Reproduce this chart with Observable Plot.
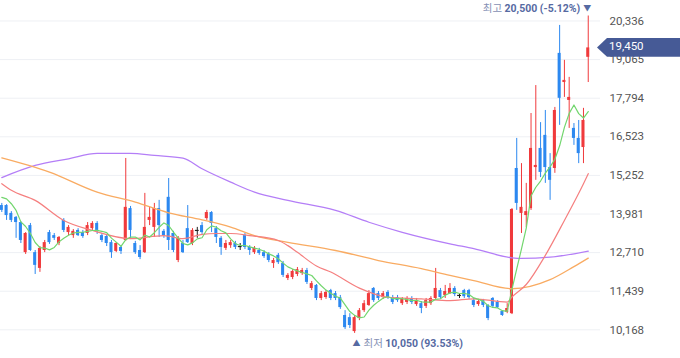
<!DOCTYPE html>
<html><head><meta charset="utf-8">
<script src="https://cdn.jsdelivr.net/npm/d3@7"></script>
<script src="https://cdn.jsdelivr.net/npm/@observablehq/plot@0.6"></script>
<style>
html,body{margin:0;padding:0;background:#fff;}
#chart{width:680px;height:358px;overflow:hidden;}
</style></head><body><div id="chart"></div>
<script>
// Daily OHLC (KRW), oldest to newest
const opens = [14260,14260,14000,13870,13700,12710,13600,12710,12190,12780,13370,13270,13010,13770,13370,13270,13440,13370,13340,13500,
13670,13270,13240,13040,12750,12880,13110,14160,13010,12780,12710,13770,13540,14160,13410,14530,13340,12450,13010,13500,
13010,13440,13600,13830,14030,13500,13180,12850,12940,13010,12910,13270,12880,12710,12780,12710,12650,12350,12620,12350,
11860,11890,11990,12020,12120,11530,11630,11200,11230,11460,11360,11230,10640,10570,10110,10540,10800,10970,11530,11360,
11230,11400,11230,11230,11030,11070,11200,11000,11030,10940,11030,11200,11460,11300,11360,11530,11300,11460,11460,11130,
11000,11130,10970,11200,11070,10770,10740,10700,15480,14000,13930,14160,15510,16140,16570,15510,15480,19270,18310,17720,
16800,16470,16170,19140];
const highs = [14330,14290,14060,13900,13730,13370,13670,12780,12910,13110,13440,13340,13240,13830,13600,13470,13500,13440,13700,13730,
13730,13340,13310,13110,13040,12940,15810,14230,13080,12940,14660,14200,14330,14430,13470,15150,13410,13240,13110,14260,
13500,13540,13700,14100,14060,13570,13240,13110,13110,13080,13010,13340,12940,12910,12850,12780,12710,12520,12680,12420,
12020,12150,12220,12190,12190,11760,11660,11430,11460,11500,11430,11300,10800,10700,10640,10870,11130,11460,11560,11430,
11430,11460,11300,11300,11230,11260,11260,11200,11100,11200,11260,12190,11530,11630,11690,11590,11360,11500,11500,11200,
11170,11170,11000,11230,11130,10800,11030,14160,16470,15640,14990,17290,18210,16990,17390,15970,17490,20190,19040,18480,
16960,17060,17460,20500];
const lows = [14030,13770,13700,13180,13010,12650,12750,11990,12060,12710,12980,13110,12940,13370,13270,13180,13240,13180,13270,13440,
13310,13040,12910,12520,12710,12650,13080,13140,12650,12480,12680,13600,13210,13210,13180,12780,12710,12380,12680,13010,
12940,13180,13310,13770,13370,13010,12620,12780,12850,12810,12780,12810,12620,12650,12620,12520,12380,12190,12320,11890,
11790,11820,11920,11960,11660,11460,11130,11130,11170,11130,11130,10840,10180,10210,10050,10470,10740,10940,11070,11130,
11170,11170,11000,11070,10970,11000,11000,10940,10700,10870,10970,11130,11170,11200,11330,11260,11200,11200,11170,10900,
10940,10900,10470,10870,10870,10610,10700,10670,14100,13340,13540,14100,15090,15180,14990,14430,15320,16900,17820,16800,
16240,15640,15640,18310];
const closes = [14100,13930,13770,13700,13110,13340,12780,12290,12850,13040,13040,13180,13210,13440,13540,13410,13270,13240,13600,13670,
13440,13110,13010,12710,13010,12750,14200,13440,12710,12550,13540,13870,14160,13600,13270,13110,12780,13180,12710,13040,
13440,13440,13370,14030,13670,13210,12880,13010,13040,12880,12910,12880,12780,12850,12680,12580,12450,12450,12380,11960,
11960,12090,12150,12120,11730,11690,11200,11360,11400,11200,11200,10900,10240,10310,10570,10800,11030,11360,11130,11200,
11360,11230,11070,11130,11170,11200,11070,11130,10870,11130,11200,11530,11230,11430,11530,11330,11300,11260,11230,10970,
11100,10970,10540,10940,10900,10640,10870,14130,14330,14200,14060,16140,15580,15350,15510,15090,17390,17790,18380,17820,
16470,15970,17060,19450];

// 5-day MA for the first four days (history before the window)
const ma5Head = [14530,14480,14320,14100];
// Moving averages at these day indexes
const ma20Idx = [0,2,7,13,19,27,34,38,42,45,48,52,58,60,62,66,69,75,81,88,94,99,106,107,110,114,118,122,123];
const ma20Val = [14980,14760,14430,13770,13440,13170,13270,13170,13310,13340,13340,13270,13110,12940,12720,12270,12070,11540,11240,11190,11130,11190,11080,11250,11660,12620,13770,14980,15310];
const ma60Idx = [0,10,20,28,35,42,48,53,60,70,79,88,94,99,107,115,120,123];
const ma60Val = [15830,15360,14700,14370,14020,13790,13550,13270,13050,12780,12450,12180,11960,11790,11520,11820,12250,12530];
const ma120Idx = [0,7,14,20,27,32,38,42,48,53,60,70,77,84,94,99,107,109,115,123];
const ma120Val = [15180,15580,15800,15980,15980,15910,15820,15470,15030,14700,14430,14100,13710,13380,13000,12840,12540,12520,12560,12760];

const yTicks = [10168,11439,12710,13981,15252,16523,17794,19065,20336];
const highText = ["최고", "20,500 (-5.12%)"];
const lowText = ["최저", "10,050 (93.53%)"];

const RED = "#f03a3c", BLUE = "#2c88f0", DOJI = "#222";
const KFONT = "'Noto Sans CJK KR', sans-serif";
const NFONT = "Roboto, 'Noto Sans', sans-serif";

const candles = closes.map((c, i) => ({i, open: opens[i], high: highs[i], low: lows[i], close: c,
  color: c > opens[i] ? RED : c < opens[i] ? BLUE : DOJI}));
const ma5 = closes.map((c, i) => ({i, v: i < 4 ? ma5Head[i] : d3.mean(closes.slice(i - 4, i + 1))}));
const toPts = (idx, val) => idx.map((i, k) => ({i, v: val[k]}));

const plot = Plot.plot({
  width: 680, height: 358,
  marginLeft: 0, marginRight: 80, marginTop: 6.4, marginBottom: 17.5,
  x: {domain: [-0.273, 125.57], axis: null},
  y: {domain: [9800, 20800], axis: null},
  style: {fontFamily: NFONT, background: "#fff", overflow: "visible"},
  marks: [
    Plot.ruleY(yTicks, {stroke: "#eef0f4", strokeWidth: 1}),
    Plot.text(yTicks, {y: d => d, text: d => d3.format(",")(d), frameAnchor: "right", textAnchor: "start", dx: 9, fontSize: 11.5, fontFamily: NFONT, fill: "#555"}),
    Plot.ruleX(candles, {x: "i", y1: "low", y2: "high", stroke: "color", strokeWidth: 1}),
    Plot.rect(candles.filter(d => d.open !== d.close), {x1: d => d.i - 0.32, x2: d => d.i + 0.32, y1: "open", y2: "close", fill: "color"}),
    Plot.ruleY(candles.filter(d => d.open === d.close), {y: "close", x1: d => d.i - 0.4, x2: d => d.i + 0.4, stroke: DOJI, strokeWidth: 1.2}),
    Plot.line(toPts(ma120Idx, ma120Val), {x: "i", y: "v", stroke: "#b47ef7", strokeWidth: 1.3, curve: "monotone-x"}),
    Plot.line(toPts(ma60Idx, ma60Val), {x: "i", y: "v", stroke: "#f9ab62", strokeWidth: 1.3, curve: "monotone-x"}),
    Plot.line(toPts(ma20Idx, ma20Val), {x: "i", y: "v", stroke: "#f57f7f", strokeWidth: 1.2, curve: "monotone-x"}),
    Plot.line(ma5, {x: "i", y: "v", stroke: "#72d66e", strokeWidth: 1.2})
  ]
});
document.getElementById("chart").appendChild(plot);

const xs = plot.scale("x"), ys = plot.scale("y");
const svg = d3.select(plot);
const iHigh = d3.maxIndex(highs), iLow = d3.minIndex(lows);
const last = closes.length - 1;

// highest price label
const th = svg.append("text").attr("x", xs.apply(iHigh) + 3.5).attr("y", ys.apply(highs[iHigh]) - 6.5)
  .attr("text-anchor", "end").attr("dominant-baseline", "middle").style("font-size", "10.5px");
th.append("tspan").attr("fill", "#8590b4").style("font-family", KFONT).text(highText[0] + " ");
th.append("tspan").attr("fill", "#566aa2").style("font-family", NFONT).attr("font-weight", "bold").text(highText[1]);
th.append("tspan").attr("fill", "#566aa2").style("font-size", "8px").style("font-family", KFONT).attr("dx", 3).text("▼");

// lowest price label
const tl = svg.append("text").attr("x", xs.apply(iLow) - 1.5).attr("y", ys.apply(lows[iLow]) + 11)
  .attr("text-anchor", "start").attr("dominant-baseline", "middle").style("font-size", "10.5px");
tl.append("tspan").attr("fill", "#566aa2").style("font-size", "8px").style("font-family", KFONT).text("▲");
tl.append("tspan").attr("fill", "#8590b4").style("font-family", KFONT).attr("dx", 3).text(lowText[0] + " ");
tl.append("tspan").attr("fill", "#566aa2").style("font-family", NFONT).attr("font-weight", "bold").text(lowText[1]);

// current price tag
const yc = ys.apply(closes[last]);
const x0 = xs.apply(125.57) - 3;
svg.append("polygon")
  .attr("points", [[x0, yc], [x0 + 10, yc - 9.3], [680, yc - 9.3], [680, yc + 9.3], [x0 + 10, yc + 9.3]].map(p => p.join(",")).join(" "))
  .attr("fill", "#465a96");
svg.append("text").attr("x", x0 + 12).attr("y", yc).attr("dominant-baseline", "middle").attr("text-anchor", "start")
  .style("font-family", NFONT).style("font-size", "11.5px").attr("fill", "#fff").text(d3.format(",")(closes[last]));
</script></body></html>
